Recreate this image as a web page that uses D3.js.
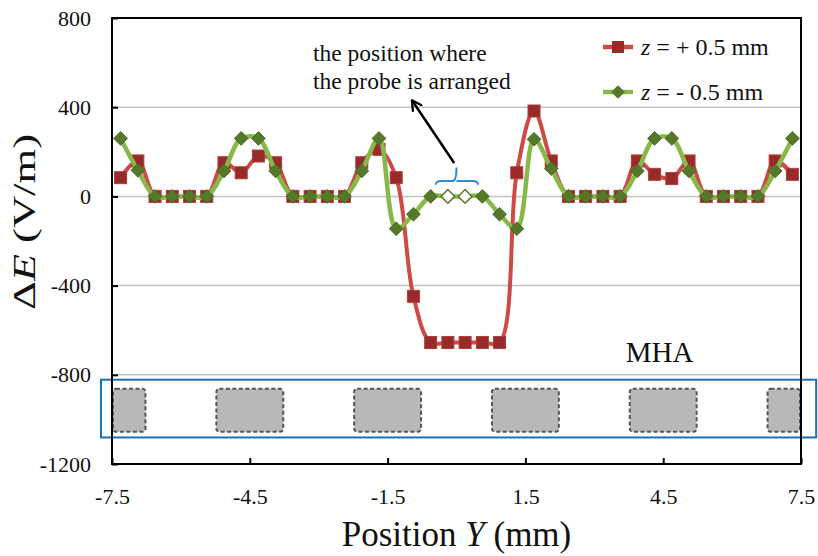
<!DOCTYPE html>
<html><head><meta charset="utf-8">
<script src="https://cdn.jsdelivr.net/npm/d3@7"></script>
<style>
html,body{margin:0;padding:0;background:#fff;}
svg{display:block;}
text{font-family:"Liberation Serif","Times New Roman",serif;fill:#111;}
</style></head>
<body>
<svg id="chart" width="818" height="556"></svg>
<script>
// ---- data ----
const positions = [-7.3125,-6.9375,-6.5625,-6.1875,-5.8125,-5.4375,-5.0625,-4.6875,-4.3125,-3.9375,
  -3.5625,-3.1875,-2.8125,-2.4375,-2.0625,-1.6875,-1.3125,-0.9375,-0.5625,-0.1875,
  0.1875,0.5625,0.9375,1.3125,1.6875,2.0625,2.4375,2.8125,3.1875,3.5625,
  3.9375,4.3125,4.6875,5.0625,5.4375,5.8125,6.1875,6.5625,6.9375,7.3125];
const zPlus = [84,159,0,0,0,0,151,106,181,151,
  0,0,0,0,151,211,84,-448,-655,-655,
  -655,-655,-655,106,383,159,0,0,0,0,
  159,99,80,159,0,0,0,0,159,99];
const zMinus = [260,117,0,0,0,0,114,260,260,114,
  0,0,0,0,114,260,-145,-80,0,0,
  0,0,-80,-145,256,125,0,0,0,0,
  114,260,260,114,0,0,0,0,114,260];
const probeIndices = [19,20];
const seriesNames = ["+ 0.5 mm","- 0.5 mm"];
const xTicks = [-7.5,-4.5,-1.5,1.5,4.5,7.5];
const yTicks = [-1200,-800,-400,0,400,800];
const gridValues = [-800,-400,0,400];
// MHA elements (mm) and their drawn band (V/m)
const mhaElements = [[-7.5,-6.75],[-5.25,-3.75],[-2.25,-0.75],[0.75,2.25],[3.75,5.25],[6.75,7.5]];
const mhaBand = [-863,-1055];
const mhaBox = {x:[-7.74,7.83], y:[-822,-1081]};

// ---- layout ----
const W = 818, H = 556;
const m = {left:112, right:17, top:18, bottom:92};
const FONT = "Liberation Serif";
const svg = d3.select("#chart");
svg.append("rect").attr("width",W).attr("height",H).attr("fill","#fff");

const x = d3.scaleLinear().domain([-7.5,7.5]).range([m.left, W-m.right]);
const y = d3.scaleLinear().domain([-1200,800]).range([H-m.bottom, m.top]);

// gridlines
svg.append("g").selectAll("line").data(gridValues).join("line")
  .attr("x1",x(-7.5)).attr("x2",x(7.5))
  .attr("y1",d=>y(d)).attr("y2",d=>y(d))
  .attr("stroke","#c4c4c4").attr("stroke-width",1.5);

// MHA elements
svg.append("g").selectAll("rect").data(mhaElements).join("rect")
  .attr("x",d=>x(d[0])+1).attr("width",d=>x(d[1])-x(d[0])-2)
  .attr("y",y(mhaBand[0])).attr("height",y(mhaBand[1])-y(mhaBand[0]))
  .attr("rx",3)
  .attr("fill","#b8b8b8").attr("stroke","#555").attr("stroke-width",2)
  .attr("stroke-dasharray","4,2.5");

svg.append("rect")
  .attr("x",x(mhaBox.x[0])).attr("width",x(mhaBox.x[1])-x(mhaBox.x[0]))
  .attr("y",y(mhaBox.y[0])).attr("height",y(mhaBox.y[1])-y(mhaBox.y[0]))
  .attr("fill","none").attr("stroke","#1f6fb4").attr("stroke-width",2);

svg.append("text").attr("x",x(4.42)).attr("y",y(-741)).attr("text-anchor","middle")
  .attr("font-family",FONT).attr("font-size",29).text("MHA");

// frame + axes
svg.append("rect").attr("x",x(-7.5)).attr("y",y(800))
  .attr("width",x(7.5)-x(-7.5)).attr("height",y(-1200)-y(800))
  .attr("fill","none").attr("stroke","#000").attr("stroke-width",2);

const yAxis = d3.axisLeft(y).tickValues(yTicks).tickSize(-6).tickPadding(21).tickFormat(d=>String(d));
const gy = svg.append("g").attr("transform",`translate(${x(-7.5)},0)`).call(yAxis);
gy.select(".domain").remove();
gy.selectAll(".tick line").attr("stroke","#000").attr("stroke-width",2);
gy.selectAll(".tick text").attr("font-size",22).attr("font-family",FONT).attr("fill","#111");

const xAxis = d3.axisBottom(x).tickValues(xTicks).tickSize(-6).tickPadding(24).tickFormat(d=>String(d));
const gx = svg.append("g").attr("transform",`translate(0,${y(-1200)})`).call(xAxis);
gx.select(".domain").remove();
gx.selectAll(".tick line").attr("stroke","#000").attr("stroke-width",2);
gx.selectAll(".tick text").attr("font-size",22).attr("font-family",FONT).attr("fill","#111");

// axis titles
const xt = svg.append("text").attr("x",(x(-7.5)+x(7.5))/2).attr("y",546)
  .attr("text-anchor","middle").attr("font-family",FONT).attr("font-size",35);
xt.append("tspan").text("Position ");
xt.append("tspan").attr("font-style","italic").text("Y");
xt.append("tspan").text(" (mm)");

const yt = svg.append("text").attr("transform","translate(35,222) rotate(-90)")
  .attr("text-anchor","middle").attr("font-family",FONT).attr("font-size",31)
  .attr("textLength",176).attr("lengthAdjust","spacingAndGlyphs");
yt.append("tspan").text("Δ");
yt.append("tspan").attr("font-style","italic").text("E");
yt.append("tspan").text(" (V/m)");

// series
const curve = d3.curveCatmullRom.alpha(0.5);
const line = d3.line().x((d,i)=>x(positions[i])).y(d=>y(d)).curve(curve);
const redLine = "#cd4a45", redMark = "#962b29", greenLine = "#86b84a", greenMark = "#56782a";

svg.append("path").datum(zPlus).attr("d",line).attr("fill","none")
  .attr("stroke",redLine).attr("stroke-width",4).attr("stroke-linejoin","round");
svg.append("g").selectAll("rect").data(zPlus).join("rect")
  .attr("x",(d,i)=>x(positions[i])-6).attr("y",d=>y(d)-6)
  .attr("width",12).attr("height",12)
  .attr("fill",redMark).attr("stroke","#b23c38").attr("stroke-width",1);

svg.append("path").datum(zMinus).attr("d",line).attr("fill","none")
  .attr("stroke",greenLine).attr("stroke-width",4.5).attr("stroke-linejoin","round");
const diamond = d3.symbol().type(d3.symbolDiamond2).size(120);
svg.append("g").selectAll("path").data(zMinus).join("path")
  .attr("transform",(d,i)=>`translate(${x(positions[i])},${y(d)})`)
  .attr("d",diamond)
  .attr("fill",(d,i)=>probeIndices.includes(i)?"#fff":greenMark)
  .attr("stroke",(d,i)=>probeIndices.includes(i)?greenMark:"#4a6a22")
  .attr("stroke-width",(d,i)=>probeIndices.includes(i)?1.5:1);

// probe bracket
const bx0 = x(-0.45), bx1 = x(0.47), bxm = x(0.0), byH = y(69), byE = y(52), byT = y(130);
svg.append("path")
  .attr("d",`M${bx0},${byE} Q${bx0},${byH} ${bx0+5},${byH} L${bxm-4},${byH} Q${bxm},${byH} ${bxm},${byT}
             M${bxm},${byH} Q${bxm},${byH} ${bxm+4},${byH} L${bx1-5},${byH} Q${bx1},${byH} ${bx1},${byE}`)
  .attr("fill","none").attr("stroke","#2a8fd6").attr("stroke-width",2);

// arrow (open arrowhead)
const defs = svg.append("defs");
defs.append("marker").attr("id","ah").attr("viewBox","0 0 12 12").attr("refX",10).attr("refY",6)
  .attr("markerWidth",5).attr("markerHeight",5).attr("orient","auto")
  .append("path").attr("d","M1,1 L10,6 L1,11").attr("fill","none").attr("stroke","#000").attr("stroke-width",2.2)
  .attr("stroke-linecap","round").attr("stroke-linejoin","round");
svg.append("line").attr("x1",x(-0.05)).attr("y1",y(150)).attr("x2",x(-0.97)).attr("y2",y(431))
  .attr("stroke","#000").attr("stroke-width",2.5).attr("marker-end","url(#ah)");

svg.append("text").attr("x",x(-3.124)).attr("y",y(607)).attr("font-family",FONT).attr("font-size",23.5).text("the position where");
svg.append("text").attr("x",x(-3.124)).attr("y",y(481)).attr("font-family",FONT).attr("font-size",23.5).text("the probe is arranged");

// legend
const legend = svg.append("g");
const legendY = [47, 92];
[0,1].forEach(k=>{
  const g = legend.append("g").attr("transform",`translate(603,${legendY[k]})`);
  g.append("line").attr("x1",0).attr("x2",30).attr("y1",0).attr("y2",0)
    .attr("stroke",k===0?redLine:greenLine).attr("stroke-width",4.5);
  if(k===0){
    g.append("rect").attr("x",9).attr("y",-6).attr("width",12).attr("height",12).attr("fill",redMark);
  } else {
    g.append("path").attr("transform","translate(15,0)").attr("d",diamond).attr("fill",greenMark);
  }
  const t = g.append("text").attr("x",38).attr("y",8).attr("font-family",FONT).attr("font-size",24);
  t.append("tspan").attr("font-style","italic").text("z");
  t.append("tspan").text(" = " + seriesNames[k]);
});
</script>
</body></html>
